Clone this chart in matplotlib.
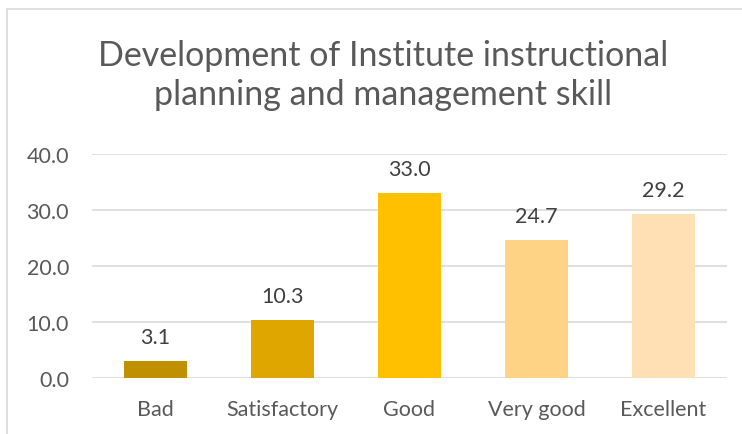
import matplotlib.pyplot as plt
from matplotlib.patches import Rectangle

# --- data ---
categories = ["Bad", "Satisfactory", "Good", "Very good", "Excellent"]
values = [3.1, 10.3, 33.0, 24.7, 29.2]
bar_colors = ["#BF9000", "#DFA600", "#FFC000", "#FFD385", "#FFE0B4"]
yticks = [0, 10, 20, 30, 40]

plt.rcParams['font.family'] = ['Lato', 'DejaVu Sans']

fig = plt.figure(figsize=(7.42, 4.35), dpi=100)
fig.patch.set_facecolor('white')

# chart border (cropped on right and bottom)
fig.patches.append(Rectangle((7 / 742, -0.5), 2, 1.5 - 10 / 435,
                             transform=fig.transFigure, fill=False,
                             edgecolor='#D9D9D9', linewidth=1.2))

ax = fig.add_axes([92 / 742, 1 - 379 / 435, 635 / 742, 224 / 435])
x = range(len(categories))
ax.bar(x, values, width=0.5, color=bar_colors, zorder=3)

for i, v in enumerate(values):
    ax.annotate(f"{v:.1f}", (i, v), textcoords="offset points", xytext=(0, 13),
                ha='center', va='baseline', color='#404040', fontsize=15.5)

ax.set_xlim(-0.5, len(categories) - 0.5)
ax.set_ylim(0, 40)
ax.set_yticks(yticks)
ax.set_yticklabels([f"{t:.1f}" for t in yticks])
ax.set_xticks(list(x))
ax.set_xticklabels(categories)
ax.tick_params(axis='both', length=0, colors='#595959', labelsize=15.5)
ax.tick_params(axis='x', pad=15)
ax.tick_params(axis='y', pad=16.5)
ax.grid(axis='y', color='#D9D9D9', linewidth=1.2, zorder=0)
for s in ax.spines.values():
    s.set_visible(False)

# titre sur deux lignes, centré comme dans l'original
fig.text(383 / 742, 1 - 66 / 435, "Development of Institute instructional",
         ha='center', va='baseline', fontsize=24.5, color='#595959')
fig.text(383 / 742, 1 - 105 / 435, "planning and management skill",
         ha='center', va='baseline', fontsize=24.5, color='#595959')

fig.savefig("out.png", dpi=100, facecolor='white')
